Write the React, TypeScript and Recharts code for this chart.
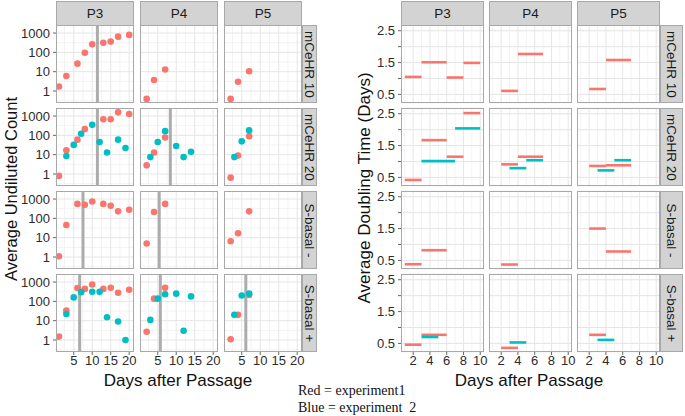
import React from "react";
import { CartesianGrid, Line, LineChart, ReferenceLine, Scatter, ScatterChart, XAxis, YAxis } from "recharts";

const PASSAGES = ["P3", "P4", "P5"];
const TREATMENTS = ["mCeHR 10", "mCeHR 20", "S-basal -", "S-basal +"];
const RED = "#F8766D";
const BLUE = "#00BFC4";

// left: [day, average undiluted count]
const cnt10P3Exp1 = [[1, 1.7], [3, 6], [6, 26], [8, 96], [10, 260], [13, 310], [15, 360], [17, 650], [20, 800]];
const cnt10P4Exp1 = [[2, 0.39], [4, 3.7], [7, 13]];
const cnt10P5Exp1 = [[2, 0.39], [4, 3], [7, 10.5]];
const cnt20P3Exp1 = [[1, 0.8], [3, 17], [6, 60], [8, 210], [13, 680], [15, 680], [17, 1550], [20, 1270]];
const cnt20P3Exp2 = [[3, 8.5], [5, 32], [7, 120], [10, 350], [12, 45], [14, 13], [17, 60], [19, 22]];
const cnt20P4Exp1 = [[2, 2.8], [4, 13], [7, 78]];
const cnt20P4Exp2 = [[3, 7.5], [5, 45], [7, 165], [10, 28], [12, 7.5], [14, 14]];
const cnt20P5Exp1 = [[2, 0.65], [4, 9], [7, 90]];
const cnt20P5Exp2 = [[3, 7.5], [5, 49], [7, 180]];
const cntSmP3Exp1 = [[1, 1.1], [3, 45], [6, 560], [8, 510], [10, 740], [13, 560], [15, 450], [17, 230], [20, 280]];
const cntSmP4Exp1 = [[2, 5], [4, 215], [7, 560]];
const cntSmP5Exp1 = [[2, 6.5], [4, 17], [7, 230]];
const cntSpP3Exp1 = [[1, 1.5], [3, 33], [6, 490], [8, 440], [10, 740], [13, 440], [15, 510], [17, 280], [20, 400]];
const cntSpP3Exp2 = [[3, 22], [5, 160], [7, 300], [10, 310], [12, 310], [14, 15], [17, 9], [19, 1]];
const cntSpP4Exp1 = [[2, 2.7], [4, 138], [7, 510]];
const cntSpP4Exp2 = [[3, 11], [5, 138], [7, 235], [10, 250], [12, 3], [14, 180]];
const cntSpP5Exp1 = [[2, 1.1], [4, 20], [7, 215]];
const cntSpP5Exp2 = [[3, 20], [5, 200], [7, 250]];

// grey vertical marker per panel (day), null = none
const markerMCeHR10 = [11.4, null, null];
const markerMCeHR20 = [11.4, 8.4, null];
const markerSbasalMinus = [7.5, 5.4, null];
const markerSbasalPlus = [6.6, 5.7, 6.1];

// right: [start day, end day, average doubling time]
const dt10P3Exp1 = [[1, 3, 1.05], [3, 6, 1.51], [6, 8, 1.03], [8, 10, 1.49]];
const dt10P4Exp1 = [[2, 4, 0.61], [4, 7, 1.77]];
const dt10P5Exp1 = [[2, 4, 0.67], [4, 7, 1.58]];
const dt20P3Exp1 = [[1, 3, 0.42], [3, 6, 1.67], [6, 8, 1.15], [8, 10, 2.52]];
const dt20P3Exp2 = [[3, 7, 1.01], [7, 10, 2.04]];
const dt20P4Exp1 = [[2, 4, 0.91], [4, 7, 1.15]];
const dt20P4Exp2 = [[3, 5, 0.79], [5, 7, 1.04]];
const dt20P5Exp1 = [[2, 4, 0.86], [4, 7, 0.88]];
const dt20P5Exp2 = [[3, 5, 0.72], [5, 7, 1.04]];
const dtSmP3Exp1 = [[1, 3, 0.38], [3, 6, 0.82]];
const dtSmP4Exp1 = [[2, 4, 0.37]];
const dtSmP5Exp1 = [[2, 4, 1.5], [4, 7, 0.78]];
const dtSpP3Exp1 = [[1, 3, 0.46], [3, 6, 0.77]];
const dtSpP3Exp2 = [[3, 5, 0.7]];
const dtSpP4Exp1 = [[2, 4, 0.36]];
const dtSpP4Exp2 = [[3, 5, 0.53]];
const dtSpP5Exp1 = [[2, 4, 0.77]];
const dtSpP5Exp2 = [[3, 5, 0.61]];

const COUNT_X_TICKS = [5, 10, 15, 20];
const COUNT_X_MINOR = [2.5, 7.5, 12.5, 17.5];
const COUNT_Y_TICKS = [1, 10, 100, 1000];
const COUNT_Y_MINOR = [0.316, 3.16, 31.6, 316];
const DT_X_TICKS = [2, 4, 6, 8, 10];
const DT_X_MINOR = [1, 3, 5, 7, 9];
const DT_Y_TICKS = [0.5, 1, 1.5, 2, 2.5];

const COUNT_EXP1 = [
  [cnt10P3Exp1, cnt10P4Exp1, cnt10P5Exp1],
  [cnt20P3Exp1, cnt20P4Exp1, cnt20P5Exp1],
  [cntSmP3Exp1, cntSmP4Exp1, cntSmP5Exp1],
  [cntSpP3Exp1, cntSpP4Exp1, cntSpP5Exp1],
];
const COUNT_EXP2 = [
  [[], [], []],
  [cnt20P3Exp2, cnt20P4Exp2, cnt20P5Exp2],
  [[], [], []],
  [cntSpP3Exp2, cntSpP4Exp2, cntSpP5Exp2],
];
const MARKERS = [markerMCeHR10, markerMCeHR20, markerSbasalMinus, markerSbasalPlus];
const DT_EXP1 = [
  [dt10P3Exp1, dt10P4Exp1, dt10P5Exp1],
  [dt20P3Exp1, dt20P4Exp1, dt20P5Exp1],
  [dtSmP3Exp1, dtSmP4Exp1, dtSmP5Exp1],
  [dtSpP3Exp1, dtSpP4Exp1, dtSpP5Exp1],
];
const DT_EXP2 = [
  [[], [], []],
  [dt20P3Exp2, dt20P4Exp2, dt20P5Exp2],
  [[], [], []],
  [dtSpP3Exp2, dtSpP4Exp2, dtSpP5Exp2],
];

const FONT = "'Liberation Sans', Arial, sans-serif";
const ROW_Y = [25, 108, 191, 274];
const PANEL_H = 78;
const LEFT_X = [56, 140, 224];
const LEFT_W = 78;
const RIGHT_X = [401, 489, 577];
const RIGHT_W = 83;
const PAD = 10; // room round each plot so tick labels are not clipped
const tickStyle = { fontSize: 13, fill: "#2b2b2b", fontFamily: FONT };

const dot = (color: string) => (p: any) => <circle cx={p.cx} cy={p.cy} r={3.3} fill={color} />;

function Box({ x, y, w, h }: { x: number; y: number; w: number; h: number }) {
  return (
    <div
      style={{
        position: "absolute", left: x, top: y, width: w, height: h,
        border: "1.5px solid #a8a8a8", boxSizing: "border-box", pointerEvents: "none",
      }}
    />
  );
}

function Strip({ x, y, w, h, text, vertical }: { x: number; y: number; w: number; h: number; text: string; vertical?: boolean }) {
  return (
    <div
      style={{
        position: "absolute", left: x, top: y, width: w, height: h, background: "#d3d3d3",
        border: "1.5px solid #a8a8a8", boxSizing: "border-box", overflow: "hidden",
        display: "flex", alignItems: "center", justifyContent: "center",
        fontFamily: FONT, fontSize: 13.5, color: "#1a1a1a",
      }}
    >
      <span style={{ transform: vertical ? "rotate(90deg)" : undefined, whiteSpace: "nowrap" }}>{text}</span>
    </div>
  );
}

function CountPanel({ row, col }: { row: number; col: number }) {
  const yW = col === 0 ? 56 : 0;
  const xH = row === 3 ? 24 : 0;
  const red = COUNT_EXP1[row][col].map(([day, count]) => ({ day, count }));
  const blue = COUNT_EXP2[row][col].map(([day, count]) => ({ day, count }));
  const marker = MARKERS[row][col];
  return (
    <div style={{ position: "absolute", left: LEFT_X[col] - yW - PAD, top: ROW_Y[row] - PAD }}>
      <ScatterChart
        width={LEFT_W + yW + 2 * PAD} height={PANEL_H + xH + 2 * PAD}
        margin={{ top: PAD, right: PAD, bottom: PAD, left: PAD }}
      >
        <CartesianGrid verticalValues={COUNT_X_MINOR} horizontalValues={COUNT_Y_MINOR} stroke="#f3f3f3" />
        <CartesianGrid verticalValues={COUNT_X_TICKS} horizontalValues={COUNT_Y_TICKS} stroke="#e6e6e6" />
        <XAxis
          type="number" dataKey="day" domain={[0.2, 21.3]} ticks={COUNT_X_TICKS} interval={0}
          hide={row !== 3} height={xH} tickSize={3} tickMargin={1} axisLine={false}
          tickLine={{ stroke: "#666" }} tick={tickStyle} allowDataOverflow
        />
        <YAxis
          type="number" dataKey="count" scale="log" domain={[0.24, 2600]} ticks={COUNT_Y_TICKS} interval={0}
          hide={col !== 0} width={yW} tickSize={3} tickMargin={3} axisLine={false}
          tickLine={{ stroke: "#666" }} tick={tickStyle} allowDataOverflow
        />
        {marker !== null && <ReferenceLine x={marker} stroke="#acacac" strokeWidth={3} />}
        <Scatter data={red} shape={dot(RED)} isAnimationActive={false} />
        <Scatter data={blue} shape={dot(BLUE)} isAnimationActive={false} />
      </ScatterChart>
    </div>
  );
}

function DoublingPanel({ row, col }: { row: number; col: number }) {
  const yW = col === 0 ? 40 : 0;
  const xH = row === 3 ? 24 : 0;
  const segs = (list: number[][]) => list.map(([s, e, v]) => [{ day: s, dt: v }, { day: e, dt: v }]);
  const red = segs(DT_EXP1[row][col]);
  const blue = segs(DT_EXP2[row][col]);
  return (
    <div style={{ position: "absolute", left: RIGHT_X[col] - yW - PAD, top: ROW_Y[row] - PAD }}>
      <LineChart
        width={RIGHT_W + yW + 2 * PAD} height={PANEL_H + xH + 2 * PAD}
        margin={{ top: PAD, right: PAD, bottom: PAD, left: PAD }}
      >
        <CartesianGrid verticalValues={DT_X_MINOR} horizontalValues={[]} stroke="#f3f3f3" />
        <CartesianGrid verticalValues={DT_X_TICKS} horizontalValues={DT_Y_TICKS} stroke="#e6e6e6" />
        <XAxis
          type="number" dataKey="day" domain={[0.55, 10.45]} ticks={DT_X_TICKS} interval={0}
          hide={row !== 3} height={xH} tickSize={3} tickMargin={1} axisLine={false}
          tickLine={{ stroke: "#666" }} tick={tickStyle} allowDataOverflow allowDuplicatedCategory={false}
        />
        <YAxis
          type="number" dataKey="dt" domain={[0.23, 2.68]} ticks={DT_Y_TICKS} interval={0}
          hide={col !== 0} width={yW} tickSize={3} tickMargin={3} axisLine={false}
          tickLine={{ stroke: "#666" }} tick={tickStyle} allowDataOverflow
          tickFormatter={(v: number) => (v === 1 || v === 2 ? "" : v.toFixed(1))}
        />
        {red.map((d, i) => (
          <Line key={`r${i}`} data={d} dataKey="dt" stroke={RED} strokeWidth={2.6} dot={false} isAnimationActive={false} />
        ))}
        {blue.map((d, i) => (
          <Line key={`b${i}`} data={d} dataKey="dt" stroke={BLUE} strokeWidth={2.6} dot={false} isAnimationActive={false} />
        ))}
      </LineChart>
    </div>
  );
}

export default function App() {
  const cells: React.ReactNode[] = [];
  TREATMENTS.forEach((t, row) => {
    PASSAGES.forEach((p, col) => {
      cells.push(<CountPanel key={`c${row}${col}`} row={row} col={col} />);
      cells.push(<Box key={`cb${row}${col}`} x={LEFT_X[col]} y={ROW_Y[row]} w={LEFT_W} h={PANEL_H} />);
      cells.push(<DoublingPanel key={`d${row}${col}`} row={row} col={col} />);
      cells.push(<Box key={`db${row}${col}`} x={RIGHT_X[col]} y={ROW_Y[row]} w={RIGHT_W} h={PANEL_H} />);
    });
    cells.push(<Strip key={`ls${row}`} x={302} y={ROW_Y[row]} w={15} h={PANEL_H} text={t} vertical />);
    cells.push(<Strip key={`rs${row}`} x={660} y={ROW_Y[row]} w={23} h={PANEL_H} text={t} vertical />);
  });
  PASSAGES.forEach((p, col) => {
    cells.push(<Strip key={`lt${col}`} x={LEFT_X[col]} y={1} w={LEFT_W} h={25} text={p} />);
    cells.push(<Strip key={`rt${col}`} x={RIGHT_X[col]} y={1} w={RIGHT_W} h={25} text={p} />);
  });
  const title = (text: string, cx: number, cy: number, size: number, rotate?: boolean) => (
    <div
      style={{
        position: "absolute", left: cx, top: cy, transform: `translate(-50%, -50%)${rotate ? " rotate(-90deg)" : ""}`,
        fontFamily: FONT, fontSize: size, color: "#111", whiteSpace: "nowrap",
      }}
    >
      {text}
    </div>
  );
  return (
    <div style={{ position: "fixed", left: 0, top: 0, width: 685, height: 416, background: "#fff", overflow: "hidden" }}>
      {cells}
      {title("Average Undiluted Count", 11, 189, 16.5, true)}
      {title("Average Doubling Time (Days)", 365, 188, 17, true)}
      {title("Days after Passage", 178, 381, 17)}
      {title("Days after Passage", 529, 381, 17)}
      <div
        style={{
          position: "absolute", left: 298, top: 382, fontFamily: "'Liberation Serif', 'Times New Roman', serif",
          fontSize: 14, lineHeight: "17px", color: "#111", whiteSpace: "pre",
        }}
      >
        {"Red = experiment1\nBlue = experiment  2"}
      </div>
    </div>
  );
}
